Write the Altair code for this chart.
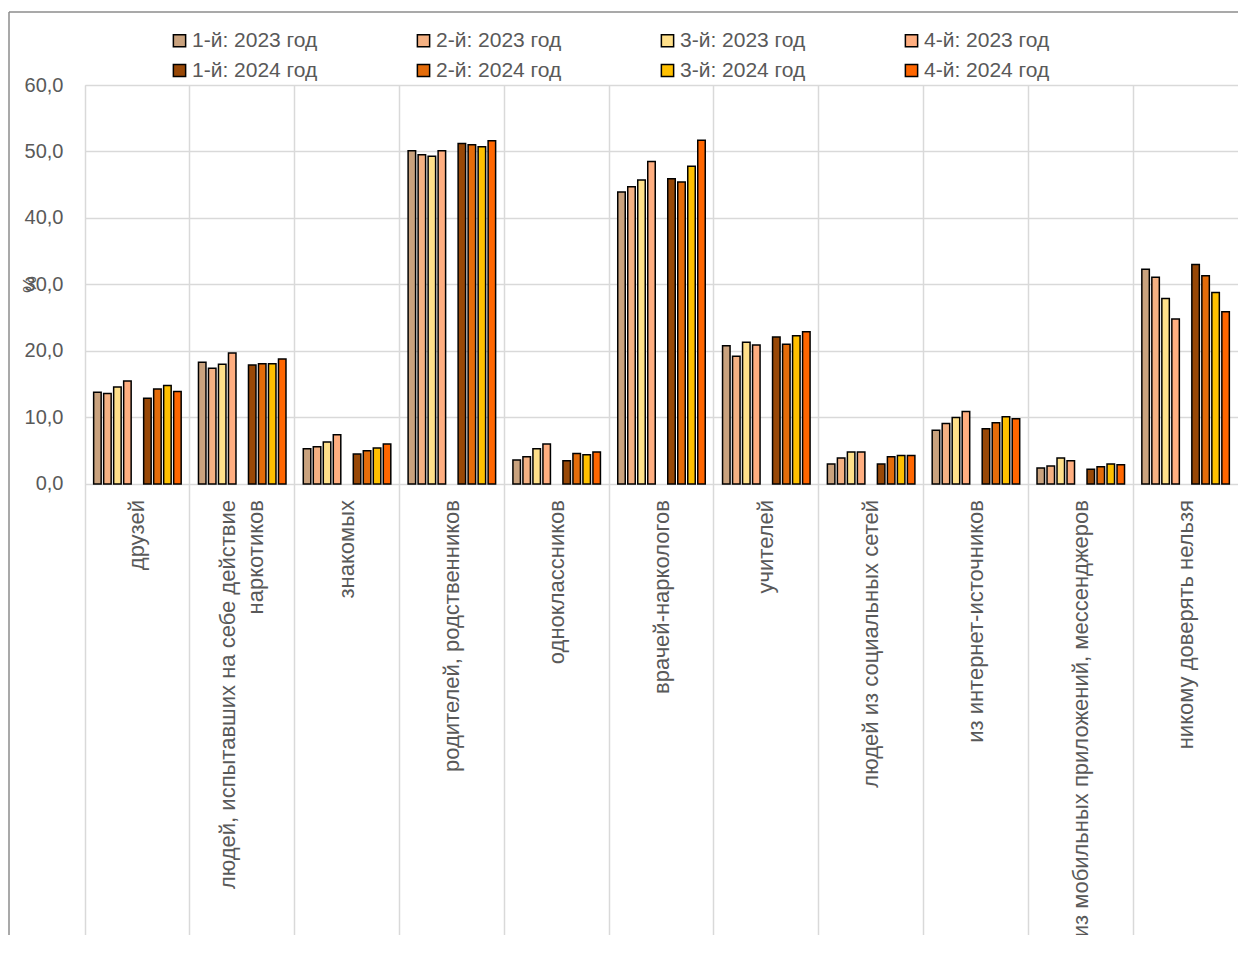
import altair as alt
import pandas as pd

cats = [
    "друзей",
    "людей, испытавших на себе действие\nнаркотиков",
    "знакомых",
    "родителей, родственников",
    "одноклассников",
    "врачей-наркологов",
    "учителей",
    "людей из социальных сетей",
    "из интернет-источников",
    "из мобильных приложений, мессенджеров",
    "никому доверять нельзя",
]

series = ["1-й: 2023 год", "2-й: 2023 год", "3-й: 2023 год", "4-й: 2023 год",
          "1-й: 2024 год", "2-й: 2024 год", "3-й: 2024 год", "4-й: 2024 год"]

v23_1 = [13.8, 18.3, 5.3, 50.1, 3.6, 43.9, 20.8, 3.0, 8.1, 2.4, 32.3]
v23_2 = [13.6, 17.4, 5.6, 49.5, 4.1, 44.7, 19.2, 3.9, 9.1, 2.7, 31.1]
v23_3 = [14.6, 18.0, 6.3, 49.3, 5.3, 45.7, 21.3, 4.8, 10.0, 3.9, 27.9]
v23_4 = [15.5, 19.7, 7.4, 50.1, 6.0, 48.5, 20.9, 4.8, 10.9, 3.5, 24.8]
v24_1 = [12.9, 17.9, 4.5, 51.2, 3.5, 45.9, 22.1, 3.0, 8.3, 2.2, 33.0]
v24_2 = [14.3, 18.1, 5.0, 51.0, 4.6, 45.4, 21.0, 4.1, 9.2, 2.6, 31.3]
v24_3 = [14.8, 18.1, 5.4, 50.7, 4.4, 47.8, 22.3, 4.3, 10.1, 3.0, 28.8]
v24_4 = [13.9, 18.8, 6.0, 51.6, 4.8, 51.7, 22.9, 4.3, 9.8, 2.9, 25.9]

colors = ["#C9A27E", "#F4B183", "#FFE08A", "#FFAE80",
          "#984807", "#E46C0A", "#FFC000", "#FF6600"]

all_vals = [v23_1, v23_2, v23_3, v23_4, v24_1, v24_2, v24_3, v24_4]
rows = []
for s, vals in zip(series, all_vals):
    for c, v in zip(cats, vals):
        rows.append({"cat": c, "series": s, "value": v})
df = pd.DataFrame(rows)
cat_df = pd.DataFrame({"cat": cats})

single_cats = [c for c in cats if "\n" not in c]
multi_cats = [c for c in cats if "\n" in c]

slots = series[:4] + [" "] + series[4:]

W, H = 1153, 850
FONT = "Liberation Sans"
GRAY = "#595959"

yscale = alt.Scale(domain=[-67.82, 60], nice=False, zero=False)
xscale = alt.Scale(domain=cats, paddingInner=0, paddingOuter=0)
xaxis = alt.Axis(title=None, labels=False, ticks=False, domain=False,
                 grid=True, bandPosition=0, gridColor="#d9d9d9", gridWidth=1.5)

bars = alt.Chart(df).mark_bar(stroke="#000000", strokeWidth=1.5).encode(
    x=alt.X("cat:N", scale=xscale, sort=cats, axis=xaxis),
    xOffset=alt.XOffset("series:N", scale=alt.Scale(domain=slots, paddingInner=0.25, paddingOuter=0.865)),
    y=alt.Y("value:Q", scale=yscale,
            axis=alt.Axis(values=[0, 10, 20, 30, 40, 50, 60],
                          labelExpr="replace(format(datum.value, '.1f'), '.', ',')",
                          ticks=False, domain=False, labelPadding=22,
                          labelFont=FONT, labelFontSize=20, labelColor=GRAY,
                          gridColor="#d9d9d9", gridWidth=1.5,
                          title="%", titleAngle=270, titleX=-56, titleY=199,
                          titleAlign="center", titleBaseline="middle",
                          titleFont=FONT, titleFontSize=19, titleFontWeight="normal",
                          titleColor=GRAY)),
    y2=alt.datum(0),
    color=alt.Color("series:N", scale=alt.Scale(domain=series, range=colors),
                    legend=alt.Legend(title=None, orient="none", legendX=84, legendY=-55,
                                      direction="horizontal", columns=4,
                                      symbolType="square", symbolSize=150,
                                      symbolStrokeColor="#000000", symbolStrokeWidth=1.5,
                                      symbolOpacity=1,
                                      labelFont=FONT, labelFontSize=21, labelColor=GRAY,
                                      labelOffset=2, columnPadding=95, rowPadding=8,
                                      padding=0)),
)

text_style = dict(angle=270, align="right", baseline="middle", dx=-16, lineBreak="\n",
                  lineHeight=28, font=FONT, fontSize=22, color=GRAY)

labels_single = alt.Chart(cat_df).transform_filter(
    alt.FieldOneOfPredicate(field="cat", oneOf=single_cats)
).mark_text(**text_style).encode(
    x=alt.X("cat:N", scale=xscale, sort=cats, axis=xaxis),
    y=alt.datum(0),
    text="cat:N",
)
labels_multi = alt.Chart(cat_df).transform_filter(
    alt.FieldOneOfPredicate(field="cat", oneOf=multi_cats)
).mark_text(dy=-14, **text_style).encode(
    x=alt.X("cat:N", scale=xscale, sort=cats, axis=xaxis),
    y=alt.datum(0),
    text="cat:N",
)

frame_data = alt.Data(values=[{}])
left_frame = alt.Chart(frame_data).mark_rule(color="#8c8c8c", strokeWidth=1.5).encode(
    x=alt.value(-76), y=alt.value(-73), y2=alt.value(H + 20))
top_frame = alt.Chart(frame_data).mark_rule(color="#8c8c8c", strokeWidth=1.5).encode(
    x=alt.value(-76), x2=alt.value(W + 20), y=alt.value(-73))

chart = alt.layer(bars, labels_single, labels_multi, left_frame, top_frame).properties(
    width=W, height=H,
    padding={"left": 77, "top": 77, "right": 0, "bottom": 0},
    autosize=alt.AutoSizeParams(type="none"),
).configure_view(stroke="#d9d9d9", strokeWidth=1.5).configure(background="white")

chart.save("out.html", embed_options={"renderer": "svg", "actions": False})
